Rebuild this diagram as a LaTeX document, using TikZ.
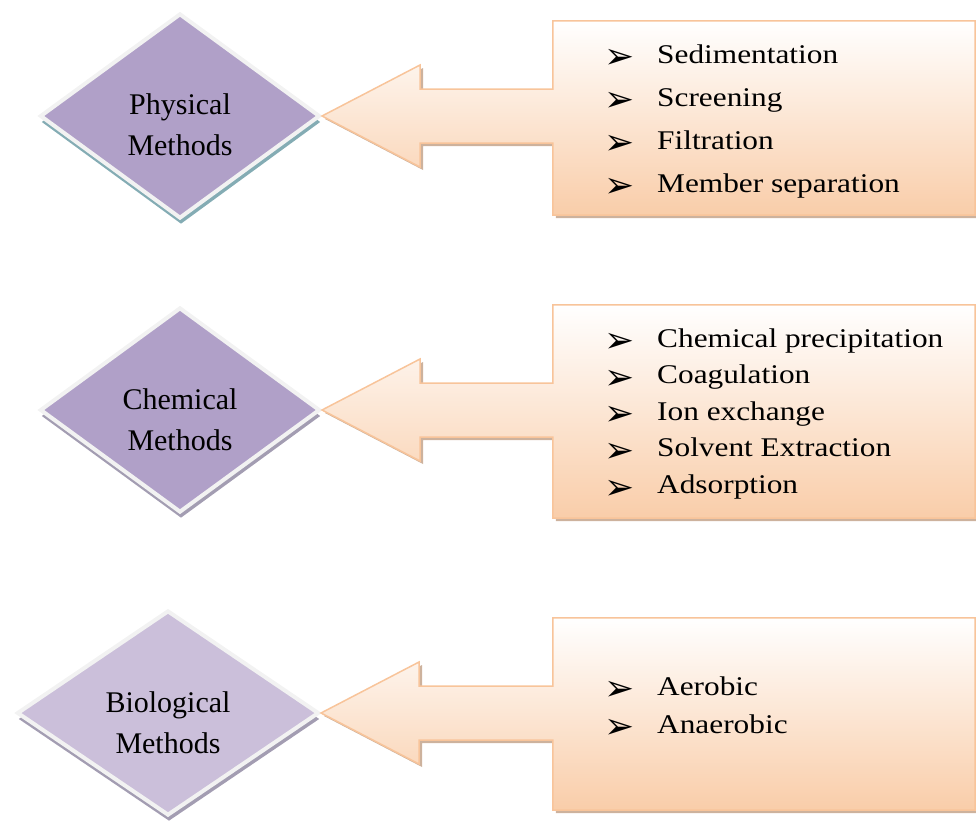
\documentclass[tikz,border=0pt]{standalone}
\usepackage{fontspec}
\setmainfont{Liberation Serif}
\newfontfamily\listfont[FakeStretch=1.16]{Liberation Serif}
\newfontfamily\bulletfont{DejaVu Sans}
\usetikzlibrary{shapes.geometric,calc,shadows}
\definecolor{diaA}{HTML}{B0A0C8}
\definecolor{diaB}{HTML}{CBBFDA}
\definecolor{diaedge}{HTML}{F2F2F2}
\definecolor{shadA}{HTML}{84ACB4}
\definecolor{shadB}{HTML}{A39DB2}
\definecolor{peach}{HTML}{F9CDA9}
\definecolor{peachedge}{HTML}{F8C49A}
\definecolor{boxshadow}{HTML}{C8AA92}
\begin{document}
\begin{tikzpicture}[x=1pt,y=-1pt,
  dia/.style={diamond, draw=diaedge, line width=4pt, inner sep=0pt,
    minimum width=280pt, minimum height=205pt},
  dtext/.style={align=center, inner sep=0pt, font=\fontsize{30}{41}\selectfont},
  boxn/.style={rectangle, inner sep=0pt, minimum width=422pt},
  callout/.style={draw=peachedge, line width=1.5pt, top color=white, bottom color=peach,
    drop shadow={shadow xshift=3pt, shadow yshift=-3pt, fill=boxshadow, opacity=0.9}},
  item/.style={anchor=base west, inner sep=0pt, font=\listfont\fontsize{27}{30}\selectfont},
  bul/.style={anchor=center, inner sep=0pt, font=\bulletfont\fontsize{36}{36}\selectfont}
]
\useasboundingbox (0,0) rectangle (976,827);

% diamonds
\node[dia, fill=diaA, drop shadow={shadow xshift=1pt, shadow yshift=-6pt, fill=shadA, opacity=1}] (d1) at (180,116) {};
\node[dia, fill=diaA, drop shadow={shadow xshift=1pt, shadow yshift=-6pt, fill=shadB, opacity=1}] (d2) at (180,410) {};
\node[dia, fill=diaB, minimum width=302pt, drop shadow={shadow xshift=1pt, shadow yshift=-6pt, fill=shadB, opacity=1}] (d3) at (168,713) {};

\node[dtext] (t1) at ($(d1.center)+(0,9)$) {Physical\\Methods};
\node[dtext] (t2) at ($(d2.center)+(0,10)$) {Chemical\\Methods};
\node[dtext] (t3) at ($(d3.center)+(0,10)$) {Biological\\Methods};

% boxes
\node[boxn, minimum height=194pt] (b1) at (764,118) {};
\node[boxn, minimum height=213pt] (b2) at (764,411.5) {};
\node[boxn, minimum height=192pt] (b3) at (764,714) {};

\foreach \b/\d in {b1/d1, b2/d2, b3/d3}{
  \path[callout] (\b.north west) -- (\b.north east) -- (\b.south east) -- (\b.south west)
    -- ($(\b.west |- \d.east)+(0,27)$) -- ($(\d.east)+(98,27)$) -- ($(\d.east)+(98,51)$)
    -- (\d.east) -- ($(\d.east)+(98,-51)$) -- ($(\d.east)+(98,-27)$)
    -- ($(\b.west |- \d.east)+(0,-27)$) -- cycle;
}

% lists
\foreach \t [count=\i] in {Sedimentation, Screening, Filtration, Member separation}{
  \node[item] (pi\i) at ({657},{63+43*(\i-1)}) {\t};
  \node[bul] (pb\i) at ({620},{59+43*(\i-1)}) {➢};
}
\foreach \t [count=\i] in {Chemical precipitation, Coagulation, Ion exchange, Solvent Extraction, Adsorption}{
  \node[item] (ci\i) at ({657},{347+36.6*(\i-1)}) {\t};
  \node[bul] (cb\i) at ({620},{343+36.6*(\i-1)}) {➢};
}
\foreach \t [count=\i] in {Aerobic, Anaerobic}{
  \node[item] (bi\i) at ({657},{695+38*(\i-1)}) {\t};
  \node[bul] (bb\i) at ({620},{691+38*(\i-1)}) {➢};
}
\end{tikzpicture}
\end{document}
